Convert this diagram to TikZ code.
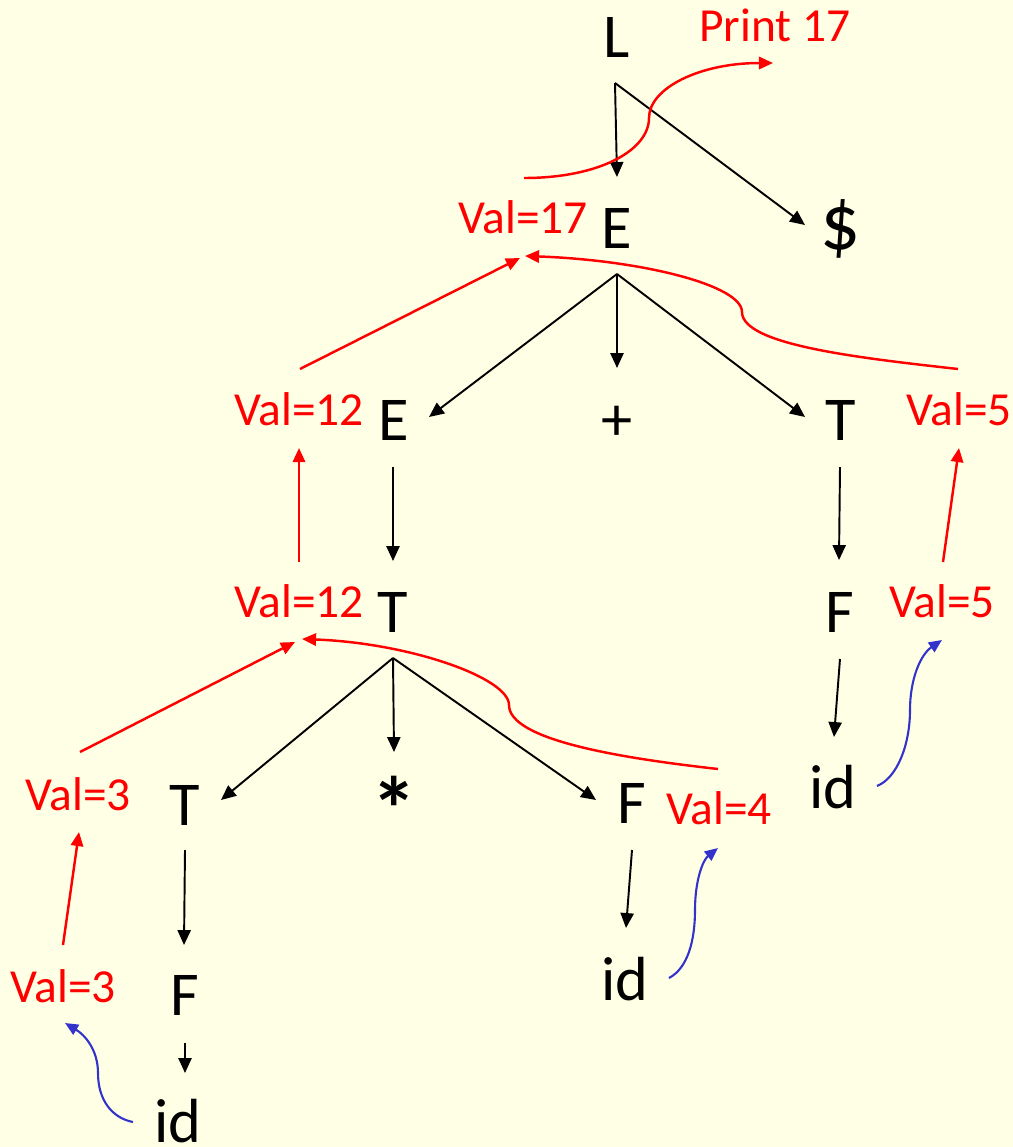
\documentclass[tikz,border=0pt]{standalone}
\usepackage{fontspec}
\setmainfont{Carlito}
\usetikzlibrary{arrows.meta}
\definecolor{bgyellow}{RGB}{255,255,229}
\definecolor{lexblue}{RGB}{51,51,204}
\begin{document}
\begin{tikzpicture}[x=0.02cm,y=-0.02cm,
  sym/.style={font=\fontsize{35.5}{40}\selectfont, inner sep=0pt, anchor=base},
  lab/.style={font=\fontsize{27}{30}\selectfont, text=red, inner sep=0pt, anchor=base},
  tree/.style={draw=black, line width=1.1pt, -{Triangle[length=8.5pt,width=7.5pt]}},
  syn/.style={draw=red, line width=1.4pt, -{Triangle[length=8pt,width=7pt]}},
  lex/.style={draw=lexblue, line width=1.2pt, -{Triangle[length=7.5pt,width=6.5pt]}}]
\fill[bgyellow] (0,0) rectangle (1013,1147);
\useasboundingbox (0,0) rectangle (1013,1147);

% ---- parse tree symbols ----
\node[sym] (L)  at (617,57)   {L};
\node[sym] (E1) at (617,248)  {E};
\node[sym, font=\fontsize{45}{50}\selectfont] (D) at (841,249) {\$};
\node[sym] (E2) at (394,440)  {E};
\node[sym] (P)  at (617,440)  {+};
\node[sym] (T1) at (841,440)  {T};
\node[sym] (T2) at (393,632)  {T};
\node[sym] (F1) at (840,632)  {F};
\node[sym] (T3) at (185,825)  {T};
\node[sym, font=\fontsize{52}{56}\selectfont\bfseries] (S) at (394,841) {*};
\node[sym] (F2) at (632,823)  {F};
\node[sym] (I1) at (833,808)  {id};
\node[sym] (F3) at (185,1015) {F};
\node[sym] (I2) at (625,1000) {id};
\node[sym] (I3) at (178,1142) {id};

% ---- attribute labels ----
\node[lab] (Pr)   at (775,41)   {Print 17};
\node[lab] (V17)  at (523,233)  {Val=17};
\node[lab] (V12a) at (299,425)  {Val=12};
\node[lab] (V5a)  at (959,425)  {Val=5};
\node[lab] (V12b) at (299,617)  {Val=12};
\node[lab] (V5b)  at (942,617)  {Val=5};
\node[lab] (V3a)  at (78,810)   {Val=3};
\node[lab] (V4)   at (719,824)  {Val=4};
\node[lab] (V3b)  at (63,1002)  {Val=3};

% ---- connector end points ----
\coordinate (L-o)  at (615,83);
\coordinate (E1-i) at (617,177);
\coordinate (D-i)  at (805,225);
\coordinate (E1-o) at (617,274);
\coordinate (E2-i) at (429,417);
\coordinate (P-i)  at (617,368);
\coordinate (T1-i) at (805,417);
\coordinate (E2-o) at (393,467);
\coordinate (T2-i) at (393,561);
\coordinate (T1-o) at (840,467);
\coordinate (F1-i) at (839,560);
\coordinate (T2-o) at (393,658);
\coordinate (T3-i) at (221,800);
\coordinate (S-i)  at (394,752);
\coordinate (F2-i) at (596,800);
\coordinate (F1-o) at (840,659);
\coordinate (I1-i) at (834,737);
\coordinate (T3-o) at (185,850);
\coordinate (F3-i) at (184,945);
\coordinate (F2-o) at (632,850);
\coordinate (I2-i) at (626,928);
\coordinate (F3-o) at (185,1043);
\coordinate (I3-i) at (185,1073);

\coordinate (V3b-o)  at (63,945);
\coordinate (V3a-i)  at (79,832);
\coordinate (V3a-o)  at (80,752);
\coordinate (V12b-i) at (295,642);
\coordinate (V12b-c) at (302,639);
\coordinate (V12b-o) at (299,562);
\coordinate (V12a-i) at (299,448);
\coordinate (V12a-o) at (300,369);
\coordinate (V17-i)  at (520,258);
\coordinate (V17-c)  at (525,256);
\coordinate (V17-o)  at (524,178);
\coordinate (Pr-i)   at (773,63);
\coordinate (V5b-o)  at (943,562);
\coordinate (V5a-i)  at (959,448);
\coordinate (V5a-o)  at (958,369);
\coordinate (V4-o)   at (718,769);
\coordinate (V4-i)   at (718,848);
\coordinate (V5b-i)  at (942,640);
\coordinate (V3b-i)  at (65,1023);
\coordinate (I1-o)   at (877,786);
\coordinate (I2-o)   at (669,978);
\coordinate (I3-o)   at (133,1122);

% ---- tree edges ----
\draw[tree] (L-o) -- (E1-i);
\draw[tree] (L-o) -- (D-i);
\draw[tree] (E1-o) -- (E2-i);
\draw[tree] (E1-o) -- (P-i);
\draw[tree] (E1-o) -- (T1-i);
\draw[tree] (E2-o) -- (T2-i);
\draw[tree] (T1-o) -- (F1-i);
\draw[tree] (T2-o) -- (T3-i);
\draw[tree] (T2-o) -- (S-i);
\draw[tree] (T2-o) -- (F2-i);
\draw[tree] (F1-o) -- (I1-i);
\draw[tree] (T3-o) -- (F3-i);
\draw[tree] (F2-o) -- (I2-i);
\draw[tree] (F3-o) -- (I3-i);

% ---- synthesized attribute flow ----
\draw[syn] (V3b-o) -- (V3a-i);
\draw[syn] (V3a-o) -- (V12b-i);
\draw[syn] (V12b-o) -- (V12a-i);
\draw[syn] (V12a-o) -- (V17-i);
\draw[syn] (V5b-o) -- (V5a-i);
\draw[syn] (V5a-o) .. controls (860,358) and (742,345) .. (742,312)
                   .. controls (742,285) and (640,260) .. (V17-c);
\draw[syn] (V4-o) .. controls (620,758) and (509,740) .. (509,705)
                  .. controls (509,678) and (410,643) .. (V12b-c);
\draw[syn] (V17-o) .. controls (600,178) and (649,150) .. (649,118)
                   .. controls (649,88) and (700,63) .. (Pr-i);

% ---- lexical values ----
\draw[lex] (I3-o) .. controls (112,1118) and (98,1100) .. (98,1073)
                  .. controls (98,1050) and (85,1035) .. (V3b-i);
\draw[lex] (I2-o) .. controls (688,968) and (695,940) .. (695,910)
                  .. controls (695,880) and (703,860) .. (V4-i);
\draw[lex] (I1-o) .. controls (897,778) and (910,745) .. (910,710)
                  .. controls (910,680) and (920,655) .. (V5b-i);
\end{tikzpicture}
\end{document}
